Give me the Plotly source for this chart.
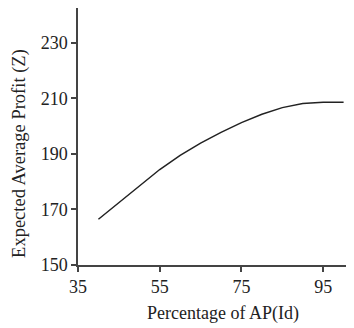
import plotly.graph_objects as go

pct_ap = [40, 45, 50, 55, 60, 65, 70, 75, 80, 85, 90, 95, 100]
profit = [166.5, 172.4, 178.6, 184.4, 189.5, 193.9, 197.8, 201.3, 204.3, 206.7, 208.2, 208.6, 208.6]

x_ticks = [35, 55, 75, 95]
y_ticks = [150, 170, 190, 210, 230]
x_title = "Percentage of AP(Id)"
y_title = "Expected Average Profit (Z)"

FONT = "Liberation Serif"

fig = go.Figure()
fig.add_trace(go.Scatter(x=pct_ap, y=profit, mode="lines",
                         line=dict(color="#222222", width=1.5), showlegend=False))

# page body has an 8px default margin, so the figure is sized to fit the window
fig.update_layout(
    width=346, height=320,
    margin=dict(l=70, r=1, t=0, b=63),
    paper_bgcolor="white", plot_bgcolor="white",
    font=dict(family=FONT, size=18, color="#222222"),
)
fig.update_xaxes(
    range=[35, 102.3], tickvals=x_ticks, ticks="outside", ticklen=5, tickwidth=1.5,
    tickcolor="#444444", showline=True, linecolor="#444444", linewidth=1.5,
    showgrid=False, zeroline=False, tickfont=dict(family=FONT, size=18),
)
fig.update_yaxes(
    range=[150, 242.6], tickvals=y_ticks, ticks="outside", ticklen=5, tickwidth=1.5,
    tickcolor="#444444", showline=True, linecolor="#444444", linewidth=1.5,
    showgrid=False, zeroline=False, tickfont=dict(family=FONT, size=18),
)

fig.add_annotation(text=x_title, xref="paper", yref="paper", x=0.529, y=-0.187,
                   xanchor="center", yanchor="middle", showarrow=False,
                   font=dict(family=FONT, size=18, color="#222222"))
fig.add_annotation(text=y_title, xref="paper", yref="paper", x=-0.211, y=0.436,
                   xanchor="center", yanchor="middle", showarrow=False, textangle=-90,
                   font=dict(family=FONT, size=18.5, color="#222222"))

fig.write_html("out.html")
